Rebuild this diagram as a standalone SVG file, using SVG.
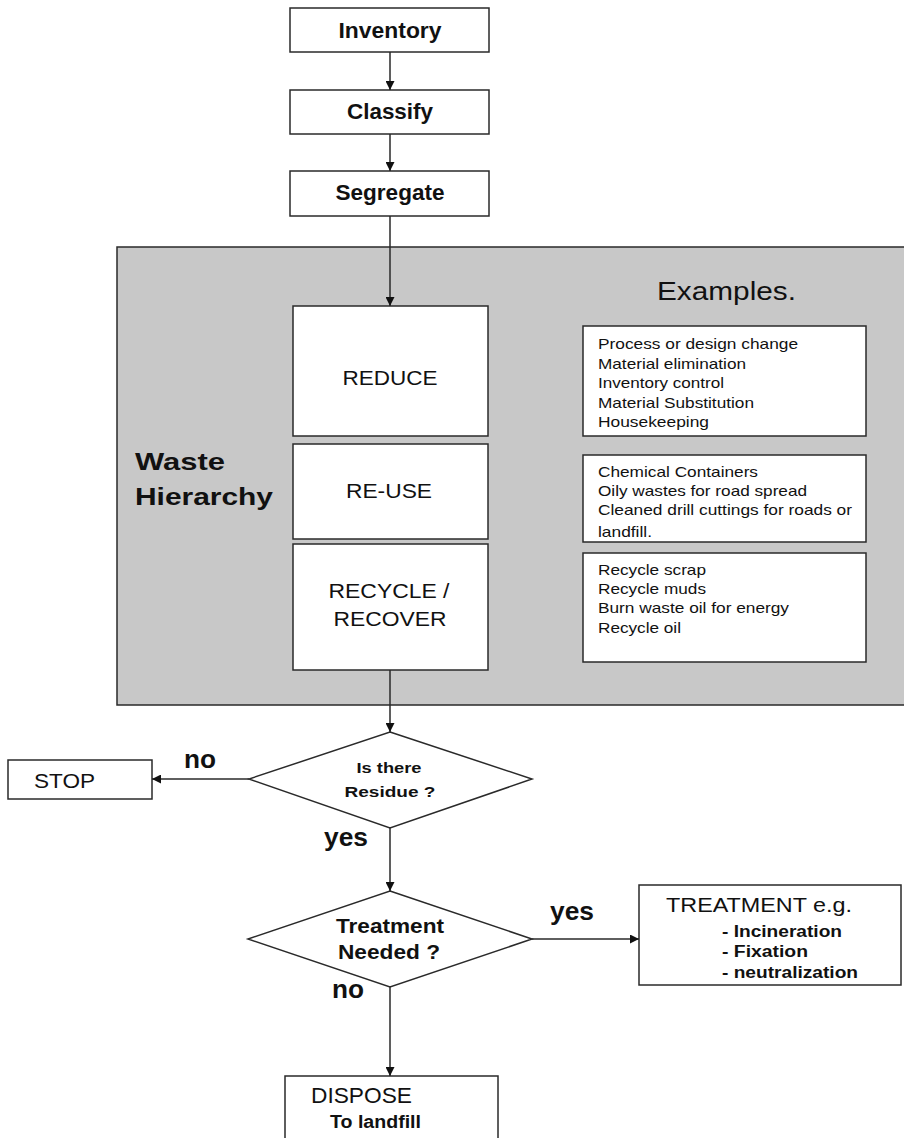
<svg xmlns="http://www.w3.org/2000/svg" width="904" height="1138" viewBox="0 0 904 1138">
<defs>
<style>
.box{fill:#fff;stroke:#2a2a2a;stroke-width:1.5}
.conn{fill:none;stroke:#2a2a2a;stroke-width:1.5;marker-end:url(#ah)}
text{font-family:"Liberation Sans",Arial,sans-serif;fill:#111}
.b{font-weight:bold}
.mid{text-anchor:middle}
.ex{font-size:15px}
</style>
<marker id="ah" viewBox="0 0 10 10" refX="10" refY="5" markerWidth="11" markerHeight="9" markerUnits="userSpaceOnUse" orient="auto">
<path d="M0,0 L10,5 L0,10 z" fill="#111"/>
</marker>
</defs>
<rect width="904" height="1138" fill="#fff"/>

<g id="panel">
<rect x="117" y="247" width="800" height="458" fill="#c8c8c8" stroke="#2a2a2a" stroke-width="1.5"/>
<text class="b" x="135" y="470" font-size="24" textLength="90" lengthAdjust="spacingAndGlyphs">Waste</text>
<text class="b" x="135" y="505" font-size="24" textLength="138" lengthAdjust="spacingAndGlyphs">Hierarchy</text>
<text x="657" y="300" font-size="25" textLength="139" lengthAdjust="spacingAndGlyphs">Examples.</text>
</g>

<g id="inventory">
<rect class="box" x="290" y="8" width="199" height="44"/>
<text class="b mid" x="390" y="38" font-size="22" textLength="103" lengthAdjust="spacingAndGlyphs">Inventory</text>
</g>
<g id="classify">
<rect class="box" x="290" y="90" width="199" height="44"/>
<text class="b mid" x="390" y="119" font-size="22" textLength="86" lengthAdjust="spacingAndGlyphs">Classify</text>
</g>
<g id="segregate">
<rect class="box" x="290" y="171" width="199" height="45"/>
<text class="b mid" x="390" y="200" font-size="22" textLength="109" lengthAdjust="spacingAndGlyphs">Segregate</text>
</g>

<g id="reduce">
<rect class="box" x="293" y="306" width="195" height="130"/>
<text class="mid" x="390" y="385" font-size="21" textLength="95" lengthAdjust="spacingAndGlyphs">REDUCE</text>
</g>
<g id="reuse">
<rect class="box" x="293" y="444" width="195" height="95"/>
<text class="mid" x="389" y="498" font-size="21" textLength="86" lengthAdjust="spacingAndGlyphs">RE-USE</text>
</g>
<g id="recycle">
<rect class="box" x="293" y="544" width="195" height="126"/>
<text class="mid" x="389" y="598" font-size="21" textLength="121" lengthAdjust="spacingAndGlyphs">RECYCLE /</text>
<text class="mid" x="390" y="626" font-size="21" textLength="113" lengthAdjust="spacingAndGlyphs">RECOVER</text>
</g>

<g id="ex-reduce">
<rect class="box" x="583" y="326" width="283" height="110"/>
<text class="ex" x="598" y="349" textLength="200" lengthAdjust="spacingAndGlyphs">Process or design change</text>
<text class="ex" x="598" y="369" textLength="148" lengthAdjust="spacingAndGlyphs">Material elimination</text>
<text class="ex" x="598" y="388" textLength="126" lengthAdjust="spacingAndGlyphs">Inventory control</text>
<text class="ex" x="598" y="408" textLength="156" lengthAdjust="spacingAndGlyphs">Material Substitution</text>
<text class="ex" x="598" y="427" textLength="111" lengthAdjust="spacingAndGlyphs">Housekeeping</text>
</g>
<g id="ex-reuse">
<rect class="box" x="583" y="455" width="283" height="87"/>
<text class="ex" x="598" y="477" textLength="160" lengthAdjust="spacingAndGlyphs">Chemical Containers</text>
<text class="ex" x="598" y="496" textLength="209" lengthAdjust="spacingAndGlyphs">Oily wastes for road spread</text>
<text class="ex" x="598" y="515" textLength="254" lengthAdjust="spacingAndGlyphs">Cleaned drill cuttings for roads or</text>
<text class="ex" x="598" y="537" textLength="54" lengthAdjust="spacingAndGlyphs">landfill.</text>
</g>
<g id="ex-recycle">
<rect class="box" x="583" y="553" width="283" height="109"/>
<text class="ex" x="598" y="575" textLength="108" lengthAdjust="spacingAndGlyphs">Recycle scrap</text>
<text class="ex" x="598" y="594" textLength="108" lengthAdjust="spacingAndGlyphs">Recycle muds</text>
<text class="ex" x="598" y="613" textLength="191" lengthAdjust="spacingAndGlyphs">Burn waste oil for energy</text>
<text class="ex" x="598" y="633" textLength="83" lengthAdjust="spacingAndGlyphs">Recycle oil</text>
</g>

<g id="residue">
<polygon class="box" points="390,732 532,779 390,828 249,779"/>
<text class="b mid" x="389" y="773" font-size="15" textLength="65" lengthAdjust="spacingAndGlyphs">Is there</text>
<text class="b mid" x="390" y="797" font-size="15" textLength="91" lengthAdjust="spacingAndGlyphs">Residue ?</text>
</g>
<g id="stop">
<rect class="box" x="8" y="760" width="144" height="39"/>
<text x="34" y="788" font-size="20" textLength="61" lengthAdjust="spacingAndGlyphs">STOP</text>
</g>
<g id="treatment-needed">
<polygon class="box" points="390,891 532,939 390,987 248,939"/>
<text class="b mid" x="390" y="933" font-size="20" textLength="108" lengthAdjust="spacingAndGlyphs">Treatment</text>
<text class="b mid" x="389" y="959" font-size="20" textLength="102" lengthAdjust="spacingAndGlyphs">Needed ?</text>
</g>
<g id="treatment">
<rect class="box" x="639" y="885" width="262" height="100"/>
<text x="666" y="912" font-size="21" textLength="186" lengthAdjust="spacingAndGlyphs">TREATMENT e.g.</text>
<text class="b" x="722" y="937" font-size="16" textLength="120" lengthAdjust="spacingAndGlyphs">- Incineration</text>
<text class="b" x="722" y="957" font-size="16" textLength="86" lengthAdjust="spacingAndGlyphs">- Fixation</text>
<text class="b" x="722" y="978" font-size="16" textLength="136" lengthAdjust="spacingAndGlyphs">- neutralization</text>
</g>
<g id="dispose">
<rect class="box" x="285" y="1076" width="213" height="70"/>
<text x="311" y="1103" font-size="22" textLength="101" lengthAdjust="spacingAndGlyphs">DISPOSE</text>
<text class="b" x="330" y="1128" font-size="18" textLength="91" lengthAdjust="spacingAndGlyphs">To landfill</text>
</g>

<g id="connectors">
<line class="conn" x1="390" y1="52" x2="390" y2="90"/>
<line class="conn" x1="390" y1="134" x2="390" y2="171"/>
<line class="conn" x1="390" y1="216" x2="390" y2="306"/>
<line class="conn" x1="390" y1="670" x2="390" y2="732"/>
<line class="conn" x1="249" y1="779" x2="152" y2="779"/>
<line class="conn" x1="390" y1="828" x2="390" y2="891"/>
<line class="conn" x1="532" y1="939" x2="639" y2="939"/>
<line class="conn" x1="390" y1="987" x2="390" y2="1076"/>
<text class="b" x="184" y="768" font-size="25" textLength="32" lengthAdjust="spacingAndGlyphs">no</text>
<text class="b" x="324" y="846" font-size="25" textLength="44" lengthAdjust="spacingAndGlyphs">yes</text>
<text class="b" x="550" y="920" font-size="25" textLength="44" lengthAdjust="spacingAndGlyphs">yes</text>
<text class="b" x="332" y="998" font-size="25" textLength="32" lengthAdjust="spacingAndGlyphs">no</text>
</g>
</svg>
